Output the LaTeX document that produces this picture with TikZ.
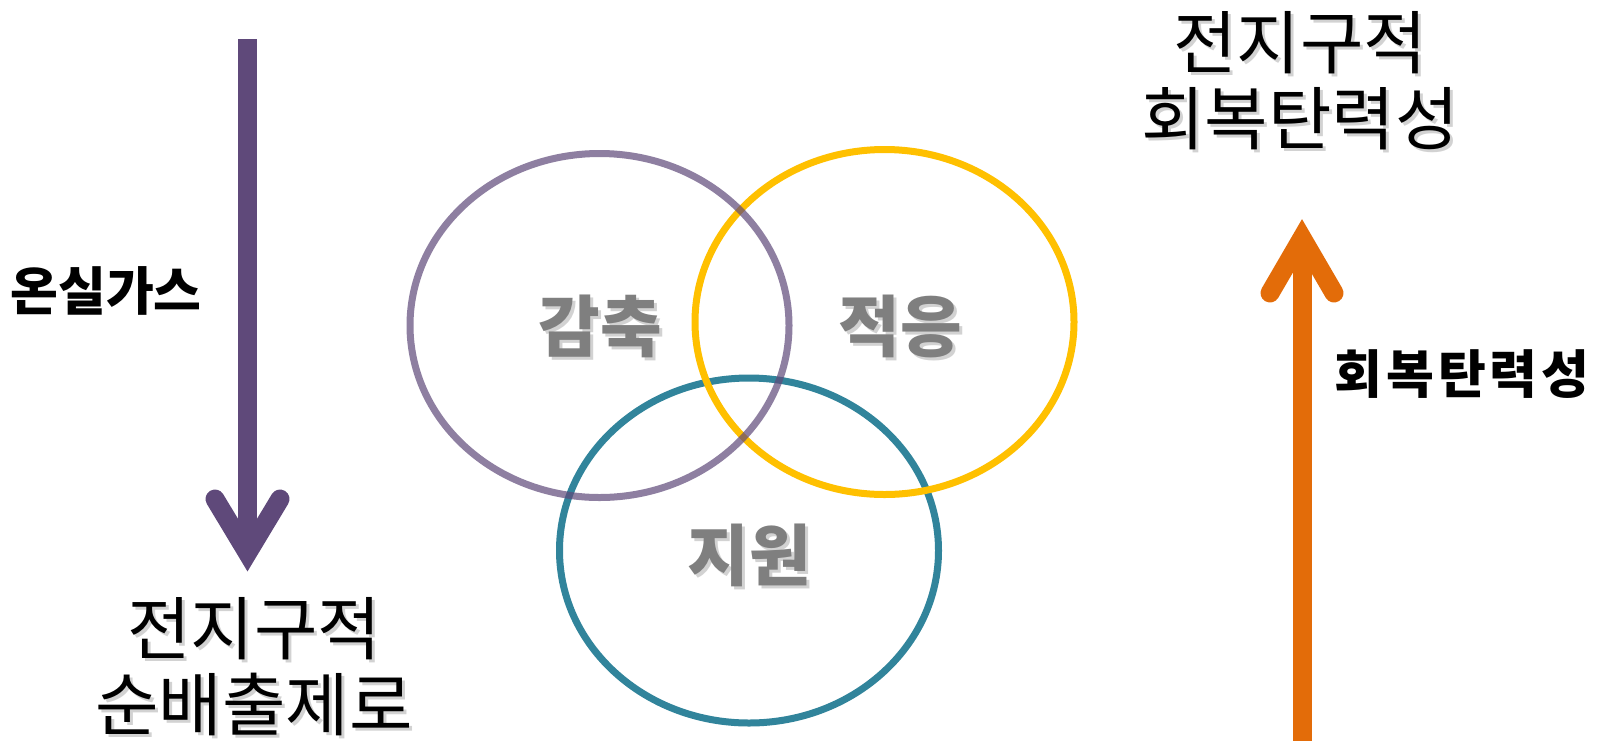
\documentclass[tikz,border=0pt]{standalone}
\usepackage{fontspec}
\newfontfamily\kr{Noto Sans CJK KR}
\definecolor{arrpurple}{HTML}{5F497A}
\definecolor{arrorange}{HTML}{E36C09}
\definecolor{ringpurple}{HTML}{5F497A}
\definecolor{ringyellow}{HTML}{FFC000}
\definecolor{ringteal}{HTML}{31849B}
\definecolor{labgray}{HTML}{7F7F7F}
\begin{document}
\begin{tikzpicture}[x=1pt,y=-1pt,
  ring/.style={line width=7pt},
  shaft/.style={line width=19pt},
  chevron/.style={line width=19pt,line cap=round,line join=miter},
  bigtext/.style={font=\kr\fontsize{69}{76}\selectfont,align=center,inner sep=0pt,text=black},
  sidelabel/.style={font=\kr\bfseries\fontsize{52}{60}\selectfont,inner sep=0pt,text=black},
  circlabel/.style={font=\kr\bfseries\fontsize{67}{76}\selectfont,inner sep=0pt,text=labgray},
  shadowtext/.style={text=black!35,opacity=0.5}
]
\useasboundingbox (0,0) rectangle (1608,740);
\fill[white] (0,0) rectangle (1608,740);

% rings
\draw[ring,ringteal] (749,550.5) ellipse [x radius=189.5, y radius=172.5];
\draw[ring,ringyellow] (884.5,322) ellipse [x radius=189.5, y radius=172.5];
\draw[ring,ringpurple,draw opacity=0.7] (599.5,325.5) ellipse [x radius=189.5, y radius=172];

% purple arrow (down)
\coordinate (pTop) at (247.5,39);
\coordinate (pTip) at (247.5,553);
\coordinate (pL) at (215,499);
\coordinate (pR) at (280,499);
\draw[shaft,arrpurple] (pTop) -- (pTip);
\draw[chevron,arrpurple] (pL) -- (pTip) -- (pR);

% orange arrow (up)
\coordinate (oBot) at (1302,742);
\coordinate (oTip) at (1302,238);
\coordinate (oL) at (1270,293);
\coordinate (oR) at (1334,293);
\draw[shaft,arrorange] (oBot) -- (oTip);
\draw[chevron,arrorange] (oL) -- (oTip) -- (oR);

% circle labels with shadows
\node[circlabel,shadowtext] (s1) at (603,329) {감축};
\node[circlabel] (c1) at (600,326) {감축};
\node[circlabel,shadowtext] (s2) at (903,329) {적응};
\node[circlabel] (c2) at (900,326) {적응};
\node[circlabel,shadowtext] (s3) at (752,558) {지원};
\node[circlabel] (c3) at (749,555) {지원};

% side labels
\node[sidelabel] (ghg) at (106,291) {온실가스};
\node[sidelabel] (res) at (1462,374) {회\kern4pt 복\kern4pt 탄\kern4pt 력\kern4pt 성};

% big texts
\node[bigtext,shadowtext] (trs) at (1303,84) {전지구적\\회복탄력성};
\node[bigtext] (tr) at (1300,81) {전지구적\\회복탄력성};
\node[bigtext,shadowtext] (bls) at (257,670) {전지구적\\순배출제로};
\node[bigtext] (bl) at (254,667) {전지구적\\순배출제로};
\end{tikzpicture}
\end{document}
